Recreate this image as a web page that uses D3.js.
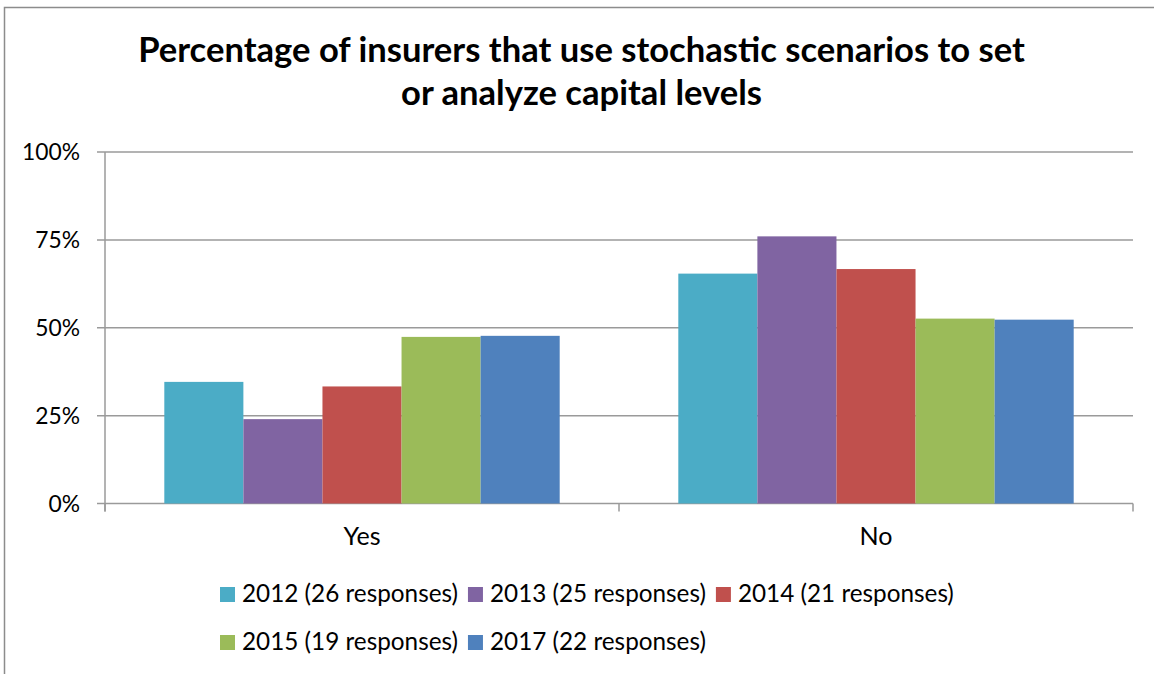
<!DOCTYPE html>
<html>
<head>
<meta charset="utf-8">
<script src="https://cdn.jsdelivr.net/npm/d3@7/dist/d3.min.js"></script>
<style>
  body { margin: 0; background: #fff; }
  svg text { font-family: Lato, "Open Sans", sans-serif; fill: #000; }
</style>
</head>
<body>
<div id="chart"></div>
<script>
// data
var categories = ['Yes', 'No'];
var seriesNames = ['2012 (26 responses)', '2013 (25 responses)', '2014 (21 responses)',
                   '2015 (19 responses)', '2017 (22 responses)'];
var seriesColors = ['#4BACC6', '#8064A2', '#C0504D', '#9BBB59', '#4F81BD'];
var valuesYes = [34.6, 24.0, 33.3, 47.4, 47.7];
var valuesNo = [65.4, 76.0, 66.7, 52.6, 52.3];
var yTicks = [0, 25, 50, 75, 100];
var titleLines = ['Percentage of insurers that use stochastic scenarios to set',
                  'or analyze capital levels'];

var width = 1154, height = 674;
var padding = { top: 152, right: 21, bottom: 170.5, left: 105 };

var svg = d3.select('#chart').append('svg')
  .attr('width', width).attr('height', height);

// helper: font size so a string fills a given width
function fitSize(text, weight, target) {
  var t = svg.append('text').attr('font-size', 100).attr('font-weight', weight).text(text);
  var w = t.node().getComputedTextLength();
  t.remove();
  return 100 * target / w;
}

// chart frame
svg.append('path')
  .attr('d', 'M4.5,' + height + 'V7.5H' + width)
  .attr('fill', 'none').attr('stroke', '#8c8c8c').attr('stroke-width', 1.5);

// title
var titleSize = fitSize(titleLines[0], 'bold', 887);
svg.append('g').selectAll('text')
  .data(titleLines).enter()
  .append('text')
  .attr('x', 581.5)
  .attr('y', function(d, i){ return 62 + i * 43; })
  .attr('text-anchor', 'middle')
  .attr('font-weight', 'bold')
  .attr('font-size', titleSize)
  .text(function(d){ return d; });

var plotW = width - padding.left - padding.right;
var plotH = height - padding.top - padding.bottom;

var x0 = d3.scaleBand().domain(categories).range([0, plotW]).paddingInner(0).paddingOuter(0);
var x1 = d3.scaleBand().domain(seriesNames)
  .range([0, x0.bandwidth()]).paddingInner(0).paddingOuter(0.75);
var yScale = d3.scaleLinear().domain([0, 100]).range([plotH, 0]);

var g = svg.append('g')
  .attr('transform', 'translate(' + padding.left + ',' + padding.top + ')');

// gridlines
g.append('g').selectAll('line')
  .data(yTicks).enter()
  .append('line')
  .attr('x1', -8).attr('x2', plotW)
  .attr('y1', function(d){ return yScale(d); })
  .attr('y2', function(d){ return yScale(d); })
  .attr('stroke', '#9a9a9a').attr('stroke-width', 1.5);

// y axis labels
var tickSize = fitSize('100%', 'normal', 58);
g.append('g').selectAll('text')
  .data(yTicks).enter()
  .append('text')
  .attr('x', -25)
  .attr('y', function(d){ return yScale(d); })
  .attr('dy', '0.36em')
  .attr('text-anchor', 'end')
  .attr('font-size', tickSize)
  .text(function(d){ return d + '%'; });

// bars
var rows = categories.map(function(c, ci){
  var vals = ci === 0 ? valuesYes : valuesNo;
  return { cat: c, vals: seriesNames.map(function(s, si){ return { name: s, v: vals[si], color: seriesColors[si] }; }) };
});
g.append('g').selectAll('g')
  .data(rows).enter()
  .append('g')
  .attr('transform', function(d){ return 'translate(' + x0(d.cat) + ',0)'; })
  .selectAll('rect')
  .data(function(d){ return d.vals; }).enter()
  .append('rect')
  .attr('x', function(d){ return x1(d.name); })
  .attr('width', x1.bandwidth())
  .attr('y', function(d){ return yScale(d.v); })
  .attr('height', function(d){ return plotH - yScale(d.v); })
  .attr('fill', function(d){ return d.color; });

// axes lines
g.append('line')
  .attr('x1', 0).attr('x2', 0).attr('y1', 0).attr('y2', plotH + 8)
  .attr('stroke', '#9a9a9a').attr('stroke-width', 1.5);
g.append('g').selectAll('line')
  .data([0, 1, 2]).enter()
  .append('line')
  .attr('x1', function(d){ return d * x0.bandwidth(); })
  .attr('x2', function(d){ return d * x0.bandwidth(); })
  .attr('y1', plotH).attr('y2', plotH + 8)
  .attr('stroke', '#9a9a9a').attr('stroke-width', 1.5);

// category labels
var catSize = fitSize('Yes', 'normal', 37);
g.append('g').selectAll('text')
  .data(categories).enter()
  .append('text')
  .attr('x', function(d){ return x0(d) + x0.bandwidth() / 2; })
  .attr('y', plotH + 41)
  .attr('text-anchor', 'middle')
  .attr('font-size', catSize)
  .text(function(d){ return d; });

// legend
var legSize = fitSize(seriesNames[0], 'normal', 216);
var legendRows = [[0, 1, 2], [3, 4]];
legendRows.forEach(function(row, ri){
  var lx = 220;
  var ly = 587 + ri * 48;
  row.forEach(function(si){
    svg.append('rect')
      .attr('x', lx).attr('y', ly)
      .attr('width', 15).attr('height', 15)
      .attr('fill', seriesColors[si]);
    var t = svg.append('text')
      .attr('x', lx + 22).attr('y', ly + 15)
      .attr('font-size', legSize)
      .text(seriesNames[si]);
    lx += 22 + t.node().getComputedTextLength() + 10;
  });
});
</script>
</body>
</html>
